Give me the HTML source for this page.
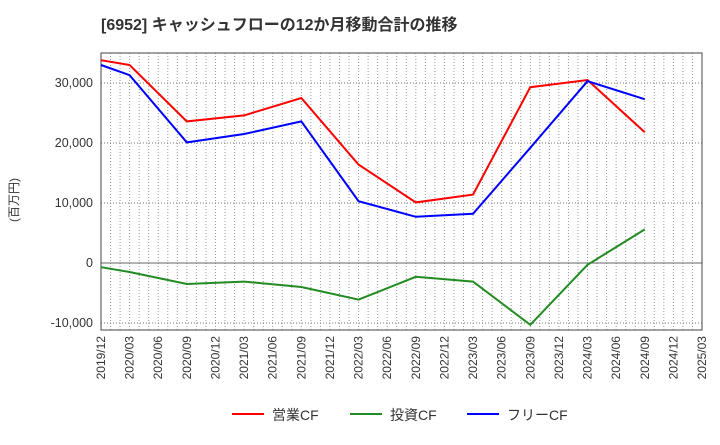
<!DOCTYPE html>
<html><head><meta charset="utf-8"><style>
body{margin:0;background:#fff;font-family:"Liberation Sans","Noto Sans CJK JP",sans-serif}
svg text{font-family:"Liberation Sans","Noto Sans CJK JP",sans-serif}
</style></head><body>
<svg id="c" width="720" height="440" xmlns="http://www.w3.org/2000/svg">
<text x="101" y="30" font-size="16" font-weight="bold" fill="#333">[6952]  キャッシュフローの12か月移動合計の推移</text>
<text transform="translate(18,200) rotate(-90)" font-size="12" fill="#333" text-anchor="middle">(百万円)</text>
<g id="grid"></g><g id="axes"></g><g id="series"></g>
<g>
<line x1="232" y1="414" x2="264" y2="414" stroke="#f00" stroke-width="2"/><text x="272" y="420" font-size="14" fill="#333">営業CF</text>
<line x1="350" y1="414" x2="382" y2="414" stroke="#228b22" stroke-width="2"/><text x="390" y="420" font-size="14" fill="#333">投資CF</text>
<line x1="467" y1="414" x2="499" y2="414" stroke="#00f" stroke-width="2"/><text x="507" y="420" font-size="14" fill="#333">フリーCF</text>
</g>
</svg>
<script>
const tickLabels=["2019/12","2020/03","2020/06","2020/09","2020/12","2021/03","2021/06","2021/09","2021/12","2022/03","2022/06","2022/09","2022/12","2023/03","2023/06","2023/09","2023/12","2024/03","2024/06","2024/09","2024/12","2025/03"];
const yTicks=[-10000,0,10000,20000,30000];
const dates=["2019/12","2020/03","2020/09","2021/03","2021/09","2022/03","2022/09","2023/03","2023/09","2024/03","2024/09"];
const operatingCF=[33800,33000,23600,24600,27500,16400,10100,11400,29300,30500,21800];
const investingCF=[-700,-1500,-3500,-3100,-4000,-6100,-2300,-3100,-10300,-300,5600];
const freeCF=[33000,31300,20100,21500,23600,10300,7700,8200,19200,30300,27300];
const NS="http://www.w3.org/2000/svg";
const L=101,R=702,T=53,B=330;
const nQ=tickLabels.length-1;
function monthIdx(d){const [y,m]=d.split("/").map(Number);return (y-2019)*12+(m-12);}
const totalM=monthIdx(tickLabels[nQ]);
const xs=m=>L+(R-L)*m/totalM;
const ys=v=>263-v*0.006;
function mk(tag,attrs,parent){const e=document.createElementNS(NS,tag);for(const k in attrs)e.setAttribute(k,attrs[k]);parent.appendChild(e);return e;}
const grid=document.getElementById("grid"),axes=document.getElementById("axes"),ser=document.getElementById("series");
for(let m=1;m<totalM;m++){const l=mk("line",{x1:xs(m),x2:xs(m),y1:T,y2:B,stroke:"#999","stroke-width":1,"stroke-dasharray":"1,2"},grid);

}
yTicks.forEach(v=>{const y=ys(v);
const l=mk("line",{x1:L,x2:R,y1:y,y2:y,stroke:v===0?"#666":"#777","stroke-width":1,"stroke-dasharray":v===0?"":"1,2"},grid);


const t=mk("text",{x:L-8,y:y+4,"font-size":12.5,fill:"#333","text-anchor":"end"},axes);t.textContent=v.toLocaleString("en-US");

});
tickLabels.forEach((s,i)=>{const x=xs(i*3);
const t=mk("text",{transform:`translate(${x+4},${B+6}) rotate(-90)`,"font-size":12,fill:"#333","text-anchor":"end"},axes);t.textContent=s;

});
const fr=mk("rect",{x:L,y:T,width:R-L,height:B-T,fill:"none",stroke:"#444","stroke-width":1},axes);


[[operatingCF,"#f00","operating-cf-line"],[investingCF,"#228b22","investing-cf-line"],[freeCF,"#00f","free-cf-line"]].forEach(([arr,c,n])=>{
const p=mk("polyline",{points:arr.map((v,i)=>xs(monthIdx(dates[i]))+","+ys(v)).join(" "),fill:"none",stroke:c,"stroke-width":2},ser);

});
</script>
</body></html>
